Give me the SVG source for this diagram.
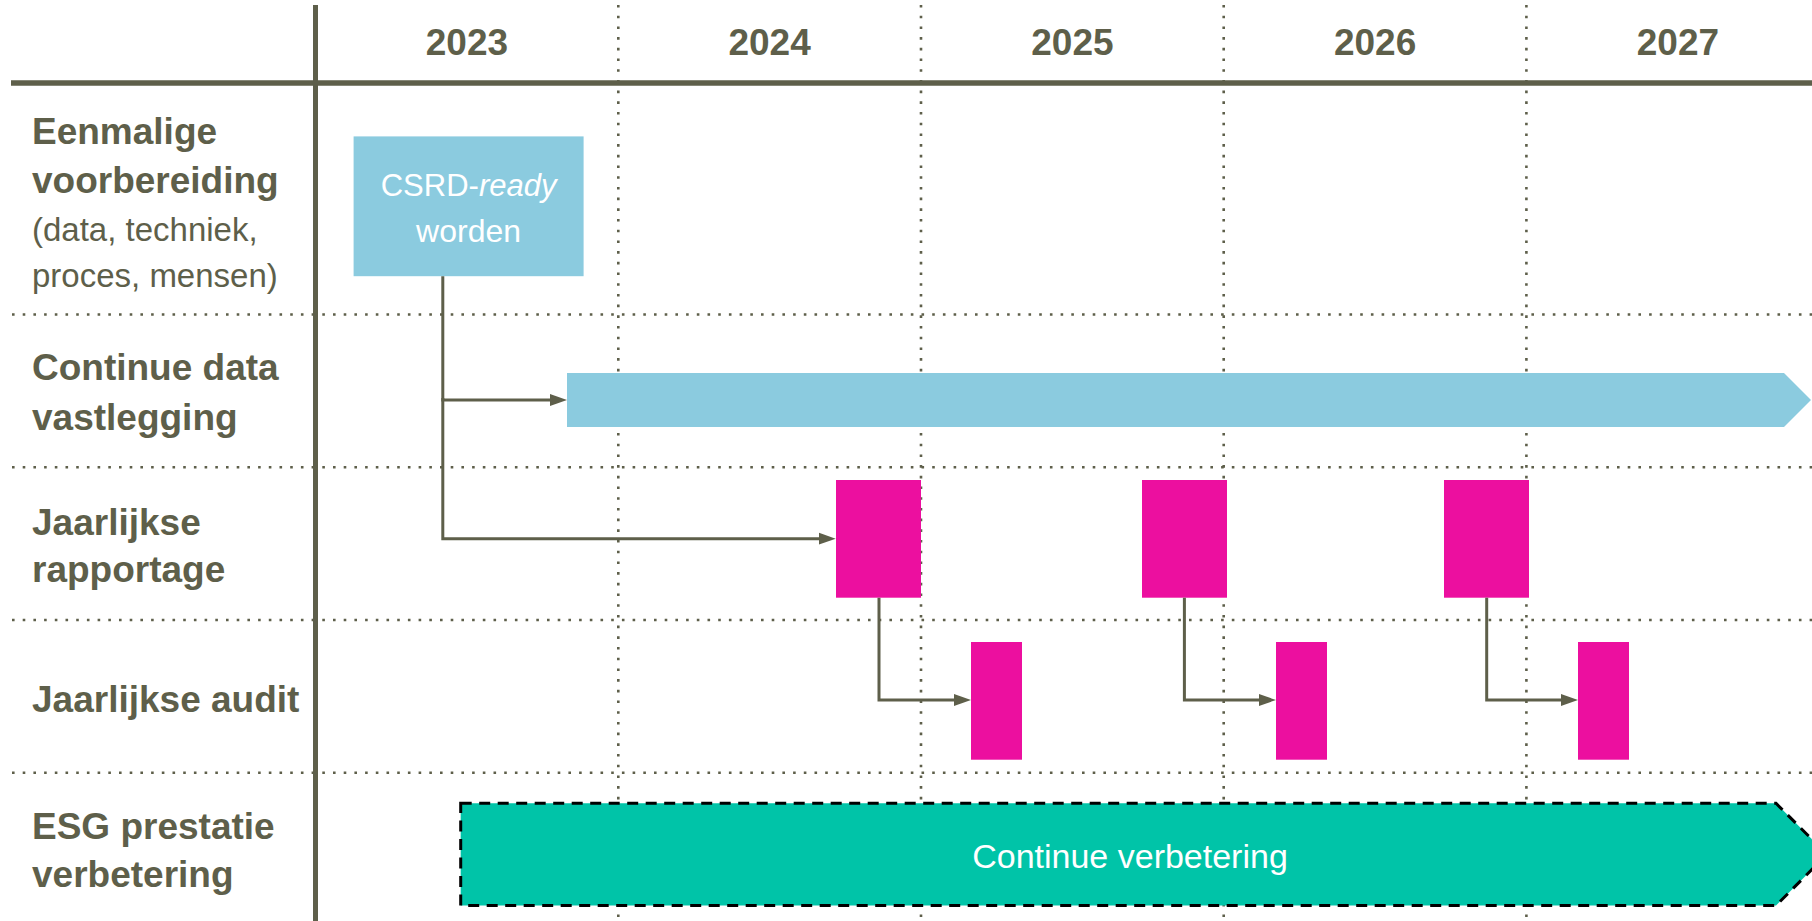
<svg xmlns="http://www.w3.org/2000/svg" width="1812" height="921" viewBox="0 0 1812 921">
<style>
.lbl{font-family:"Liberation Sans",Arial,sans-serif;fill:#5E5F4A;}
.b{font-weight:bold;font-size:37px;}
.r{font-size:33px;}
.yr{font-family:"Liberation Sans",Arial,sans-serif;font-weight:bold;font-size:37px;fill:#5E5F4A;text-anchor:middle;}
.wt{font-family:"Liberation Sans",Arial,sans-serif;fill:#FFFFFF;text-anchor:middle;}
.dot{stroke:#5E5F4A;stroke-width:2.6;stroke-dasharray:2.6 8.1;fill:none;}
.solid{stroke:#5E5F4A;fill:none;}
.conn{stroke:#5E5F4A;stroke-width:3;fill:none;marker-end:url(#ah);}
.mag{fill:#EC0F9F;}
</style>
<defs>
<marker id="ah" markerUnits="userSpaceOnUse" markerWidth="18" markerHeight="13" refX="2" refY="6.5" orient="auto">
<path d="M0,0.5 L17,6.5 L0,12.5 Z" fill="#5E5F4A"/>
</marker>
</defs>
<rect width="1812" height="921" fill="#FFFFFF"/>
<g id="grid">
<line class="dot" x1="618.3" y1="5" x2="618.3" y2="921"/>
<line class="dot" x1="921" y1="5" x2="921" y2="921"/>
<line class="dot" x1="1223.7" y1="5" x2="1223.7" y2="921"/>
<line class="dot" x1="1526.4" y1="5" x2="1526.4" y2="921"/>
<line class="dot" x1="12" y1="314.5" x2="1812" y2="314.5"/>
<line class="dot" x1="12" y1="467.3" x2="1812" y2="467.3"/>
<line class="dot" x1="12" y1="620" x2="1812" y2="620"/>
<line class="dot" x1="12" y1="772.8" x2="1812" y2="772.8"/>
<line class="solid" stroke-width="5.5" x1="11" y1="83" x2="1812" y2="83"/>
<line class="solid" stroke-width="5" x1="315.5" y1="5" x2="315.5" y2="921"/>
</g>
<g id="years">
<text class="yr" x="466.9" y="55">2023</text>
<text class="yr" x="769.6" y="55">2024</text>
<text class="yr" x="1072.4" y="55">2025</text>
<text class="yr" x="1375.1" y="55">2026</text>
<text class="yr" x="1677.9" y="55">2027</text>
</g>
<g id="row-labels">
<text class="lbl b" x="32" y="144">Eenmalige</text>
<text class="lbl b" x="32" y="193">voorbereiding</text>
<text class="lbl r" x="32" y="241">(data, techniek,</text>
<text class="lbl r" x="32" y="287">proces, mensen)</text>
<text class="lbl b" x="32" y="380">Continue data</text>
<text class="lbl b" x="32" y="430">vastlegging</text>
<text class="lbl b" x="32" y="535">Jaarlijkse</text>
<text class="lbl b" x="32" y="582">rapportage</text>
<text class="lbl b" x="32" y="712" font-size="36.5">Jaarlijkse audit</text>
<text class="lbl b" x="32" y="839">ESG prestatie</text>
<text class="lbl b" x="32" y="887">verbetering</text>
</g>
<g id="csrd-ready">
<rect x="353.6" y="136.4" width="230" height="139.8" fill="#8BCBDF"/>
<text class="wt" x="468.6" y="196" font-size="31">CSRD-<tspan font-style="italic">ready</tspan></text>
<text class="wt" x="468.6" y="242" font-size="32">worden</text>
</g>
<g id="continue-data-bar">
<polygon points="567,373 1784,373 1811,400 1784,427 567,427" fill="#8BCBDF"/>
</g>
<g id="rapportage-2024"><rect class="mag" x="836" y="480" width="85" height="117.7"/></g>
<g id="rapportage-2025"><rect class="mag" x="1142" y="480" width="85" height="117.7"/></g>
<g id="rapportage-2026"><rect class="mag" x="1444" y="480" width="85" height="117.7"/></g>
<g id="audit-2024"><rect class="mag" x="971" y="642" width="51" height="117.7"/></g>
<g id="audit-2025"><rect class="mag" x="1276" y="642" width="51" height="117.7"/></g>
<g id="audit-2026"><rect class="mag" x="1578" y="642" width="51" height="117.7"/></g>
<g id="continue-verbetering">
<polygon points="460.7,803.3 1776,803.3 1827,854.4 1776,905.5 460.7,905.5" fill="#00C4A8" stroke="#000000" stroke-width="3" stroke-dasharray="11 7.5"/>
<text class="wt" x="1130" y="868" font-size="34">Continue verbetering</text>
</g>
<g id="connectors">
<path class="conn" d="M442.8,276.2 V400 H552"/>
<path class="conn" d="M442.8,398 V538.7 H820.7"/>
<path class="conn" d="M879,597.7 V700 H956"/>
<path class="conn" d="M1184.4,597.7 V700 H1261"/>
<path class="conn" d="M1486.7,597.7 V700 H1563"/>
</g>
</svg>
